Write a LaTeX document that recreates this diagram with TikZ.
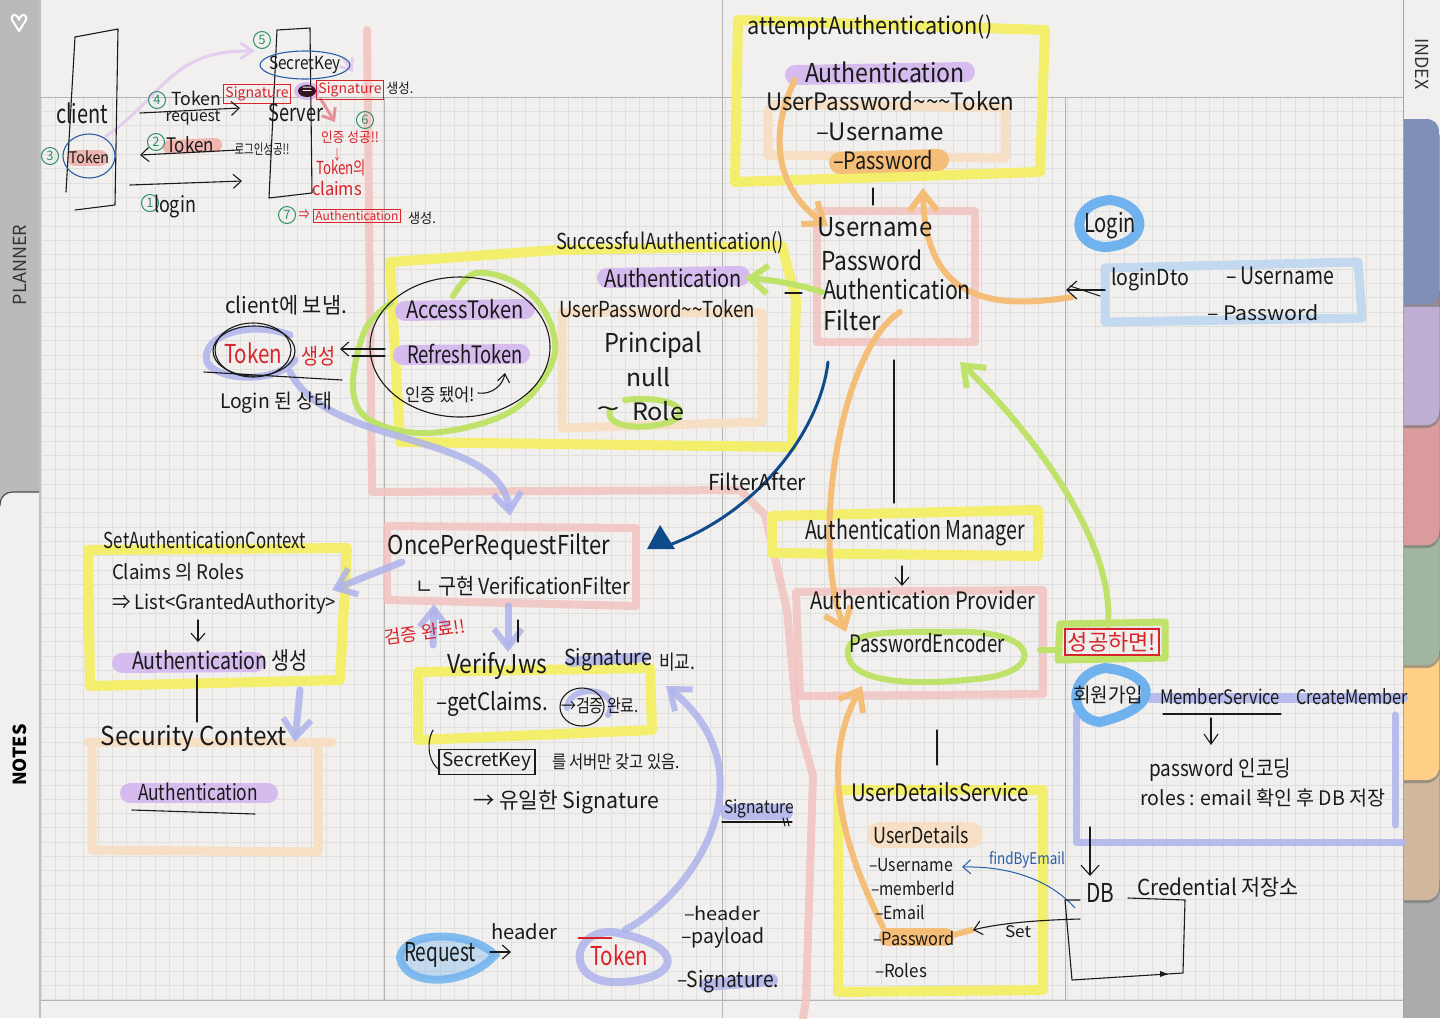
\documentclass[tikz,border=0pt]{standalone}
\usepackage{fontspec}
\usepackage{graphicx}
\setmainfont{Noto Sans CJK KR}
\usetikzlibrary{arrows.meta,calc}
\definecolor{paper}{HTML}{F1F0EE}
\definecolor{gridc}{HTML}{DFDFDD}
\definecolor{majorc}{HTML}{B4B4B2}
\definecolor{pen}{HTML}{1A1A1A}
\definecolor{redpen}{HTML}{D8232A}
\definecolor{greenpen}{HTML}{2F8F6B}
\definecolor{bluepen}{HTML}{2A5DA8}
\definecolor{navy}{HTML}{0F4A8A}
\definecolor{hyellow}{HTML}{F3EF6C}
\definecolor{hpink}{HTML}{F2C4C2}
\definecolor{htan}{HTML}{F6DFC4}
\definecolor{horange}{HTML}{F5BE78}
\definecolor{hgreen}{HTML}{BFE36A}
\definecolor{hperi}{HTML}{AEB4EC}
\definecolor{hpurple}{HTML}{D6BCEE}
\definecolor{hlilac}{HTML}{E4CDF0}
\definecolor{hblue}{HTML}{6FB2EE}
\definecolor{hsky}{HTML}{C3D9EF}
\definecolor{hrose}{HTML}{EFB5B0}
\definecolor{sidegray}{HTML}{B9BABA}
\definecolor{rightgray}{HTML}{A9ABAB}
\tikzset{
  hwtext/.style={inner sep=0pt,outer sep=0pt,anchor=center},
  penl/.style={draw=pen,line width=.55pt,line cap=round,line join=round},
  redl/.style={draw=redpen,line width=.6pt,line cap=round,line join=round},
  mark1/.style={line width=5pt,line cap=round,line join=round},
  yel/.style={mark1,draw=hyellow},
  pinkb/.style={mark1,draw=hpink,line width=4pt,opacity=.85},
  tanb/.style={mark1,draw=htan,line width=4.5pt},
  ora/.style={mark1,draw=horange,line width=3pt},
  grn/.style={mark1,draw=hgreen,line width=3pt},
  peri/.style={mark1,draw=hperi,line width=3.5pt,opacity=.85},
  purp/.style={mark1,draw=hpurple,line width=10pt},
  headS/.style={-{Straight Barb[length=9pt,width=14pt,line width=3pt]}},
  redbox/.style={draw=redpen,line width=.55pt,inner sep=1pt,text=redpen,font=\fontsize{7pt}{8pt}\selectfont},
  sidetext/.style={text=black!80,inner sep=0pt,font=\fontsize{9pt}{10pt}\selectfont},
}
% \hw[colour]{name}{x}{y}{width px}{font pt}{text}
\newcommand{\hw}[7][pen]{\node[hwtext,text=#1] (#2) at (#3,#4) {\resizebox{\dimexpr #5pt/2\relax}{\height}{\fontsize{#6pt}{#6pt}\selectfont #7}};}
\newcommand{\numc}[4]{\node[circle,draw=greenpen,line width=.5pt,text=greenpen,inner sep=0pt,minimum size=8.5pt,font=\fontsize{6.5pt}{7pt}\selectfont] (#1) at (#2,#3) {#4};}
% one index tab: top, bottom, colour
\newcommand{\tabdraw}[3]{%
  \definecolor{tabc}{HTML}{#3}%
  \fill[black!55,opacity=.6] (1403,#1) -- (1403,{#2+3}) -- (1426,{#2+3}) .. controls (1434,{#2+3}) and (1440,{#2-3}) .. (1440,{#2-11}) -- (1440,#1) -- cycle;
  \fill[tabc] (1403,#1) -- (1403,#2) -- (1426,#2) .. controls (1434,#2) and (1439,{#2-5}) .. (1439,{#2-13}) -- (1439,#1) -- cycle;
}
\begin{document}
\begin{tikzpicture}[x=.5pt,y=-.5pt]
\useasboundingbox (0,0) rectangle (1440,1018);
\fill[paper] (0,0) rectangle (1440,1018);
% grid
\foreach \i in {0,...,95} {\draw[gridc,line width=.35pt] ({41+\i*14.25},97) -- ({41+\i*14.25},1000);}
\foreach \i in {0,...,63} {\draw[gridc,line width=.35pt] (40,{97+\i*14.33}) -- (1403,{97+\i*14.33});}
\draw[majorc,line width=.4pt] (40,97) -- (1403,97);
\draw[majorc,line width=.4pt] (40,1000) -- (1403,1000);
\draw[majorc,line width=.5pt] (384,97) -- (384,1000);
\draw[majorc,line width=.5pt] (722,0) -- (722,1018);
\draw[majorc,line width=.5pt] (1065,97) -- (1065,1000);
% left sidebar
\fill[sidegray] (0,0) rectangle (39,510);
\fill[paper] (0,1018) -- (0,506) .. controls (0,497) and (5,492) .. (14,492) -- (39,492) -- (39,1018) -- cycle;
\draw[black!70,line width=.6pt] (0,506) .. controls (0,497) and (5,492) .. (14,492) -- (39,492);
\draw[black!25,line width=1pt] (39.5,0) -- (39.5,1018);
\node[rotate=90,sidetext] (planner) at (20,265) {PLANNER};
\node[rotate=90,text=black,inner sep=0pt,font=\bfseries\fontsize{9pt}{10pt}\selectfont] (notes) at (20,755) {NOTES};
\draw[white,line width=1pt,line join=round] (19,31) -- (12,20) .. controls (11,13) and (17,13) .. (19,20) .. controls (21,13) and (27,13) .. (26,20) -- cycle;
% right sidebar
\fill[rightgray] (1403,880) rectangle (1440,1018);
\tabdraw{770}{900}{D1B89C}
\tabdraw{650}{780}{FFCF87}
\tabdraw{530}{665}{A2B5A0}
\tabdraw{410}{545}{D99B9B}
\tabdraw{290}{425}{BFAED3}
\fill[black!55,opacity=.6] (1403,130) rectangle (1440,307);
\fill[paper] (1403,0) rectangle (1440,120);
\fill[paper] (1428,118) rectangle (1440,135);
\definecolor{tabb}{HTML}{7F90B7}
\fill[tabb] (1403,119) -- (1426,119) .. controls (1434,119) and (1439,124) .. (1439,132) -- (1439,290) .. controls (1439,298) and (1434,304) .. (1426,304) -- (1403,304) -- cycle;
\draw[black!35,line width=.5pt] (1403,0) -- (1403,1018);
\node[rotate=-90,sidetext] (index) at (1422,64) {INDEX};

% long pink margin line
\draw[pinkb] (367,30) -- (372,492) -- (740,490) -- (765,515) -- (787,610) -- (797,720) -- (813,775) -- (806,1000) -- (803,1018);
% pink boxes
\draw[pinkb] (387,526) -- (636,528) -- (636,606) -- (387,600) -- cycle;
\draw[pinkb] (817,211) -- (975,211) -- (975,342) -- (817,342) -- cycle;
\draw[pinkb] (796,592) -- (1043,590) -- (1043,694) -- (800,696) -- cycle;
% tan boxes
\draw[tanb] (768,110) -- (768,155) -- (1005,158) -- (1005,108) -- (775,104);
\draw[tanb] (562,312) -- (762,313) -- (762,422) -- (562,428) -- cycle;
\draw[tanb] (88,742) -- (332,742);
\draw[tanb] (92,742) -- (92,850) -- (318,852) -- (318,745);
% yellow boxes
\draw[yel] (738,20) -- (1045,30) -- (1040,172) -- (735,182) -- cycle;
\draw[yel] (390,262) -- (556,250) -- (782,246) -- (796,300) -- (792,447) -- (400,442) -- cycle;
\draw[yel] (772,516) -- (1038,510) -- (1038,556) -- (772,553) -- cycle;
\draw[yel] (88,550) -- (347,548) -- (340,680) -- (90,686) -- cycle;
\draw[yel] (418,672) -- (650,668) -- (652,730) -- (418,740) -- cycle;
\draw[yel] (838,790) -- (1043,790) -- (1043,990) -- (838,992) -- cycle;
% purple highlights
\draw[purp] (795,75) -- (965,72);
\draw[purp] (607,278) -- (740,276);
\draw[purp] (405,311) -- (525,309);
\draw[purp] (403,355) -- (520,354);
\draw[purp] (122,663) -- (255,662);
\draw[purp] (130,793) -- (268,793);
% orange
\draw[purp,draw=horange,line width=11pt] (840,163) -- (938,160);
\draw[purp,draw=horange,line width=9pt] (888,937) -- (945,937);
\draw[ora] (945,937) -- (972,930);
\draw[purp,draw=htan,line width=13pt] (880,835) -- (970,835);
\coordinate (oa1) at (828,226);
\coordinate (oa2) at (923,188);
\coordinate (oa3) at (846,632);
\coordinate (oa4) at (862,686);
\draw[ora,headS] (795,80) .. controls (772,125) and (770,185) .. (oa1);
\draw[ora,headS] (1072,297) .. controls (990,310) and (925,300) .. (oa2);
\draw[ora,headS] (900,312) .. controls (840,350) and (810,540) .. (oa3);
\draw[ora,headS] (883,927) .. controls (850,860) and (815,770) .. (oa4);
% green
\coordinate (ga1) at (745,278);
\coordinate (ga2) at (960,362);
\draw[grn,headS] (822,292) .. controls (800,285) and (775,280) .. (ga1);
\draw[grn,headS] (1108,625) .. controls (1115,540) and (1030,430) .. (ga2);
\draw[grn] plot[smooth,tension=.6] coordinates {(453,296) (476,273) (520,285) (549,320) (552,363) (510,412) (430,433) (370,420) (353,387) (365,330) (391,303)};
\draw[grn] (948,632) .. controls (1040,628) and (1045,670) .. (985,678) .. controls (900,688) and (845,680) .. (848,650) .. controls (850,630) and (900,632) .. (948,632);
\draw[grn] (1040,650) -- (1060,650);
\draw[grn] (625,400) .. controls (670,395) and (695,410) .. (670,422) .. controls (635,432) and (605,425) .. (610,410);
\draw[grn,line width=3.5pt] (1060,624) -- (1165,622) -- (1165,658) -- (1058,660) -- cycle;
% periwinkle
\draw[peri] (290,335) .. controls (250,320) and (200,335) .. (207,362) .. controls (215,380) and (275,385) .. (295,360);
\coordinate (pa1) at (510,516);
\draw[peri,headS] (290,372) .. controls (330,450) and (500,430) .. (pa1);
\coordinate (pa2) at (332,590);
\coordinate (pa3) at (295,742);
\coordinate (pa4) at (434,604);
\coordinate (pa5) at (508,652);
\coordinate (pa6) at (666,686);
\draw[peri,headS] (402,562) -- (pa2);
\draw[peri,headS] (300,690) -- (pa3);
\draw[peri,headS] (433,645) -- (pa4);
\draw[peri,headS] (508,606) -- (pa5);
\draw[peri,headS] (625,930) .. controls (700,890) and (770,770) .. (pa6);
\draw[peri,line width=4pt] (612,932) .. controls (570,930) and (565,985) .. (620,982) .. controls (680,980) and (690,945) .. (612,932);
\draw[peri,line width=5pt] (570,662) -- (645,657);
\draw[peri,line width=3pt] (567,708) .. controls (570,680) and (625,690) .. (608,715);
\draw[peri,line width=8pt] (728,812) -- (785,812);
\draw[peri,line width=6pt] (705,985) -- (772,980);
\draw[peri,line width=5pt] (1150,698) -- (1403,698);
\draw[peri] (1076,715) -- (1076,842) -- (1403,842);
\draw[peri] (1395,715) -- (1395,825);
% light arrows in head-notes
\coordinate (la1) at (255,51);
\draw[hlilac,line width=1.5pt,-{Straight Barb[length=6pt,width=8pt]}] (105,137) .. controls (165,95) and (170,50) .. (la1);
\coordinate (la2) at (353,72);
\draw[hlilac,line width=1.5pt,-{Straight Barb[length=5pt,width=8pt]}] (343,58) -- (la2);
\coordinate (la3) at (335,122);
\draw[hrose!80!purple,line width=1.5pt,-{Straight Barb[length=5pt,width=8pt]}] (320,98) -- (la3);
\draw[hrose,line width=7pt,line cap=round] (170,147) -- (215,145);
\draw[hrose,line width=8pt,line cap=round] (75,158) -- (100,158);
\fill[hpurple] (307,91) ellipse (13 and 9);
% bright blue
\draw[hblue,line width=5pt,line cap=round] (1110,200) .. controls (1150,205) and (1150,245) .. (1105,247) .. controls (1070,245) and (1070,203) .. (1110,200);
\fill[hblue,opacity=.35] (400,957) .. controls (405,930) and (470,930) .. (495,955) .. controls (470,985) and (405,990) .. (400,957);
\draw[hblue,line width=4pt,line cap=round,opacity=.85] (400,957) .. controls (405,930) and (470,930) .. (495,955) .. controls (470,985) and (405,990) .. (400,957);
\draw[hblue,line width=5pt,line cap=round] (1105,668) .. controls (1150,672) and (1170,705) .. (1100,722) .. controls (1070,720) and (1065,675) .. (1105,668);
% sky box
\draw[hsky,line width=4.5pt,line join=round] (1105,268) -- (1358,262) -- (1362,318) -- (1105,322) -- cycle;
% client / server boxes
\draw[penl] (75,37) -- (118,29) -- (115,205) -- (75,210);
\draw[penl] (75,37) -- (66,192);
\draw[penl] (277,30) -- (310,28) -- (312,193) -- (269,198) -- cycle;
% texts: top-left notes
\hw{tclient}{82}{113}{52}{13}{client}
\hw{ttoken1}{89}{157}{40}{8}{Token}
\draw[bluepen,line width=.55pt] (89,156) ellipse (26 and 22);
\numc{n3}{50}{156}{3}
\numc{n5}{262}{40}{5}
\numc{n4}{157}{100}{4}
\numc{n2}{156}{142}{2}
\numc{n1}{150}{203}{1}
\numc{n6}{365}{120}{6}
\numc{n7}{287}{215}{7}
\hw{tsk}{305}{65}{72}{9}{SecretKey}
\draw[bluepen,line width=.55pt] (305,65) ellipse (45 and 14);
\hw{ttok2}{196}{98}{50}{9}{Token}
\hw{treq}{193}{118}{55}{8}{request}
\node[redbox,minimum width=29pt] (sig1) at (257,94) {Signature};
\node[redbox,minimum width=29pt] (sig2) at (350,90) {Signature};
\fill[pen!85!purple] (307,91) ellipse (9 and 6);
\hw[white]{teq}{307}{91}{10}{7}{=}
\hw{tmk1}{400}{88}{27}{7}{생성.}
\hw{tserver}{296}{113}{55}{12}{Server}
\hw[redpen]{tauth}{350}{137}{58}{7}{인증 성공!!}
\hw[redpen]{tdown}{337}{155}{8}{7}{↓}
\hw[redpen]{ttokc}{341}{168}{50}{9}{Token의}
\hw[redpen]{tcl}{337}{188}{50}{9}{claims}
\hw[redpen]{timp}{304}{215}{11}{7}{⇒}
\node[redbox,font=\fontsize{6pt}{7pt}\selectfont] (authbox) at (357,216) {Authentication};
\hw{tmk2}{422}{218}{28}{7}{생성.}
\hw{ttok3}{190}{145}{48}{10}{Token}
\hw{tlgok}{262}{149}{55}{7}{로그인성공!!}
\hw{tlogin}{175}{206}{42}{11}{login}
\draw[penl,-{Straight Barb[length=4pt,width=7pt]}] (140,113) -- (240,108);
\draw[penl,-{Straight Barb[length=4pt,width=7pt]}] (238,150) -- (140,155);
\draw[penl,-{Straight Barb[length=4pt,width=7pt]}] (130,185) -- (242,181);
% client에 보냄 block
\hw{tsend}{286}{305}{122}{11}{client에 보냄.}
\hw[redpen]{ttokr}{253}{353}{58}{13}{Token}
\hw[redpen]{tsaeng}{318}{356}{34}{11}{생성}
\draw[penl] (253,350) ellipse (38 and 27);
\draw[penl] (254,351) ellipse (41 and 25);
\draw[penl] (204,372) -- (342,380);
\hw{tloged}{276}{403}{112}{10}{Login 된 상태}
\draw[penl,-{Straight Barb[length=4pt,width=7pt]}] (385,349) -- (340,349);
\draw[penl] (385,356) -- (352,356);
\draw[penl] (460,347) ellipse (90 and 70);
\hw{tacc}{465}{309}{118}{12}{AccessToken}
\hw{tref}{465}{354}{116}{12}{RefreshToken}
\hw{tdone}{440}{395}{70}{9}{인증 됐어!}
\draw[penl,-{Straight Barb[length=4pt,width=6pt]}] (478,393) .. controls (492,395) and (503,385) .. (505,373);
\hw{tsucc}{670}{243}{228}{11}{SuccessfulAuthentication()}
\hw{tauth1}{673}{278}{138}{12}{Authentication}
\hw{tupt1}{657}{309}{196}{11}{UserPassword\textasciitilde\textasciitilde Token}
\hw{tprin}{653}{345}{98}{13}{Principal}
\hw{tnull}{648}{377}{44}{12}{null}
\hw{ttilde}{608}{412}{24}{12}{\textasciitilde}
\hw{trole}{658}{411}{52}{12}{Role}
% attempt block
\hw{tatt}{870}{27}{245}{12}{attemptAuthentication()}
\hw{tauth2}{885}{72}{160}{13}{Authentication}
\hw{tupt2}{890}{101}{248}{12}{UserPassword\textasciitilde\textasciitilde\textasciitilde Token}
\hw{tus1}{880}{132}{128}{12}{–Username}
\hw{tpw1}{883}{160}{100}{12}{–Password}
\draw[penl] (873,188) -- (873,205);
\hw{tuf1}{875}{227}{115}{13}{Username}
\hw{tuf2}{872}{260}{102}{13}{Password}
\hw{tuf3}{897}{289}{148}{13}{Authentication}
\hw{tuf4}{852}{320}{58}{13}{Filter}
\draw[penl] (785,293) -- (802,293);
\draw[penl] (894,360) -- (894,503);
\hw{tlog2}{1110}{226}{52}{13}{Login}
\hw{tdto}{1150}{279}{78}{11}{loginDto}
\hw{tus2}{1280}{276}{108}{12}{– Username}
\hw{tpw2}{1263}{313}{112}{10}{– Password}
\draw[penl,-{Straight Barb[length=5pt,width=9pt]}] (1105,290) -- (1066,290);
\draw[penl] (1100,296) -- (1070,286);
% blue arrow
\coordinate (na1) at (672,544);
\draw[navy,line width=1.5pt,line cap=round] (828,362) .. controls (820,430) and (760,510) .. (na1);
\fill[navy] (660,525) -- (675,549) -- (647,549) -- cycle;
\hw{tfa}{757}{482}{98}{11}{FilterAfter}
% manager
\hw{tam}{915}{532}{220}{13}{Authentication Manager}
\draw[penl,-{Straight Barb[length=4pt,width=7pt]}] (902,566) -- (902,586);
\hw{tap}{923}{600}{225}{12}{Authentication Provider}
\hw{tpe}{927}{643}{155}{12}{PasswordEncoder}
\node[draw=redpen,line width=.6pt,inner sep=1.5pt,text=redpen,font=\fontsize{11pt}{12pt}\selectfont] (success) at (1112,642) {성공하면!};
\draw[penl] (937,730) -- (937,765);
% UserDetails
\hw{tuds}{940}{792}{178}{12}{UserDetailsService}
\hw{tud}{921}{835}{95}{11}{UserDetails}
\hw{tu1}{911}{865}{84}{9}{–Username}
\hw{tu2}{913}{888}{84}{9}{–memberId}
\hw{tu3}{900}{912}{50}{9}{–Email}
\hw{tu4}{914}{938}{82}{9}{–Password}
\hw{tu5}{901}{970}{52}{9}{–Roles}
\hw[bluepen]{tfbe}{1027}{860}{76}{8}{findByEmail}
\hw{tset}{1018}{932}{26}{8}{Set}
\coordinate (ua1) at (962,867);
\coordinate (ua2) at (973,930);
\draw[bluepen,line width=.5pt,-{Straight Barb[length=4pt,width=7pt]}] (1075,908) .. controls (1050,880) and (1010,866) .. (ua1);
\draw[penl,-{Straight Barb[length=4pt,width=7pt]}] (1080,919) .. controls (1040,920) and (1000,923) .. (ua2);
\hw{tdb}{1100}{893}{28}{13}{DB}
\hw{tcred}{1218}{887}{162}{11}{Credential 저장소}
\draw[penl] (1080,900) -- (1065,900) -- (1072,980) -- (1183,973) -- (1185,900) -- (1128,898);
\fill[pen] (1168,974) -- (1160,971) -- (1160,977) -- cycle;
\draw[penl,-{Straight Barb[length=5pt,width=9pt]}] (1090,827) -- (1090,876);
% member block
\hw{tjoin}{1108}{695}{70}{10}{회원가입}
\hw{tms}{1220}{697}{120}{10}{MemberService}
\hw{tcm}{1352}{697}{112}{10}{CreateMember}
\draw[penl] (1163,714) -- (1281,714);
\draw[penl,-{Straight Barb[length=5pt,width=7pt]}] (1211,718) -- (1211,745);
\hw{tpwd}{1220}{770}{142}{11}{password 인코딩}
\hw{troles}{1263}{798}{245}{10}{roles : email 확인 후 DB 저장}
% left block
\hw{tsac}{205}{540}{202}{11}{SetAuthenticationContext}
\hw{tclm}{178}{572}{132}{10}{Claims 의 Roles}
\hw{tlist}{224}{604}{224}{10}{⇒ List<GrantedAuthority>}
\draw[penl,-{Straight Barb[length=4pt,width=7pt]}] (198,620) -- (198,642);
\hw{tau3}{220}{660}{176}{12}{Authentication 생성}
\draw[penl] (197,675) -- (197,722);
\hw{tsc}{194}{738}{186}{13}{Security Context}
\hw{tau4}{198}{792}{120}{11}{Authentication}
\draw[penl] (132,810) -- (255,814);
% Once filter block
\hw{tonce}{499}{547}{222}{13}{OncePerRequestFilter}
\hw{tver}{523}{586}{215}{11}{ㄴ 구현 VerificationFilter}
\node[rotate=8,inner sep=0pt,text=redpen,font=\fontsize{9pt}{10pt}\selectfont] (tvd) at (425,632) {검증 완료!!};
\draw[penl] (518,620) -- (518,642);
\hw{tvj}{497}{666}{100}{13}{VerifyJws}
\hw{tsig3}{608}{660}{88}{11}{Signature}
\hw{tcomp}{677}{662}{36}{10}{비교.}
\hw{tgc}{492}{704}{112}{12}{–getClaims.}
\hw{tverd}{600}{706}{78}{9}{→검증 완료.}
\draw[pen,line width=.55pt] (582,707) ellipse (22 and 19);
\draw[penl] (433,730) .. controls (425,745) and (430,765) .. (440,770);
\node[draw=pen,line width=.55pt,inner sep=1.5pt,text=pen,font=\fontsize{9.5pt}{10pt}\selectfont,minimum width=48pt] (tsk2) at (487,762) {SecretKey};
\hw{tsvr}{616}{762}{128}{9}{를 서버만 갖고 있음.}
\hw{tunq}{566}{802}{186}{11}{→ 유일한 Signature}
\hw{tsig4}{759}{809}{70}{9}{Signature}
\draw[penl] (722,822) -- (792,822);
\draw[penl] (783,818) -- (785,826);
\draw[penl] (787,818) -- (789,826);
% request block
\hw{treq2}{440}{955}{72}{13}{Request}
\hw{thead}{524}{932}{66}{10}{header}
\draw[penl,-{Straight Barb[length=4pt,width=7pt]}] (490,952) -- (511,952);
\hw[redpen]{ttokq}{619}{955}{58}{13}{Token}
\draw[redpen,line width=.6pt] (578,938) -- (612,938);
\hw{tlh}{722}{913}{76}{9}{–header}
\hw{tlp}{723}{938}{83}{10}{–payload}
\hw{tls}{728}{982}{102}{11}{–Signature.}
\end{tikzpicture}
\end{document}
